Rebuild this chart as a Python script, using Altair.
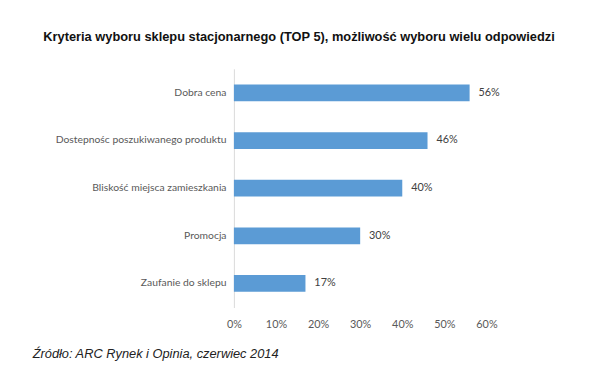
import altair as alt
import pandas as pd

categories = ["Dobra cena", "Dostepnośc poszukiwanego produktu", "Bliskość miejsca zamieszkania", "Promocja", "Zaufanie do sklepu"]
values = [0.56, 0.46, 0.40, 0.30, 0.17]
labels = ["56%", "46%", "40%", "30%", "17%"]

df = pd.DataFrame({"cat": categories, "val": values, "lab": labels})

y = alt.Y("cat:N", sort=categories, title=None,
          scale=alt.Scale(paddingInner=0.65, paddingOuter=0.33),
          axis=alt.Axis(ticks=False, labelPadding=8, labelFont="Lato", labelFontSize=10.5,
                        labelColor="#595959", domainColor="#d9d9d9", labelLimit=300))
x = alt.X("val:Q", title=None,
          scale=alt.Scale(domain=[0, 0.6], nice=False),
          axis=alt.Axis(format=".0%", values=[0, 0.1, 0.2, 0.3, 0.4, 0.5, 0.6], grid=False, ticks=False,
                        domain=False, labelPadding=11, labelFlush=False, labelFont="Lato", labelFontSize=11,
                        labelColor="#595959"))

bars = alt.Chart(df).mark_bar(color="#5B9BD5", size=17).encode(x=x, y=y)
text = alt.Chart(df).mark_text(align="left", dx=9, font="Lato", fontSize=11, color="#404040").encode(
    x="val:Q", y=alt.Y("cat:N", sort=categories), text="lab:N")

source_df = pd.DataFrame({"s": ["Źródło: ARC Rynek i Opinia, czerwiec 2014"]})
source = alt.Chart(source_df).mark_text(align="left", baseline="middle", font="Liberation Sans",
                                         fontSize=13, fontStyle="italic", color="#222222").encode(
    x=alt.value(-204), y=alt.value(289), text="s:N")

chart = alt.layer(bars, text, source).properties(
    width=256, height=242,
    title=alt.TitleParams("Kryteria wyboru sklepu stacjonarnego (TOP 5), możliwość wyboru wielu odpowiedzi",
                          font="Liberation Sans", fontSize=13, fontWeight="bold", color="#111111",
                          anchor="middle", dx=-62, offset=25),
    autosize=alt.AutoSizeParams(type="none"),
    padding={"left": 229, "top": 59, "right": 107, "bottom": 83},
).configure_view(stroke=None)

chart.save("out.html", embed_options={"renderer": "svg", "actions": False})
